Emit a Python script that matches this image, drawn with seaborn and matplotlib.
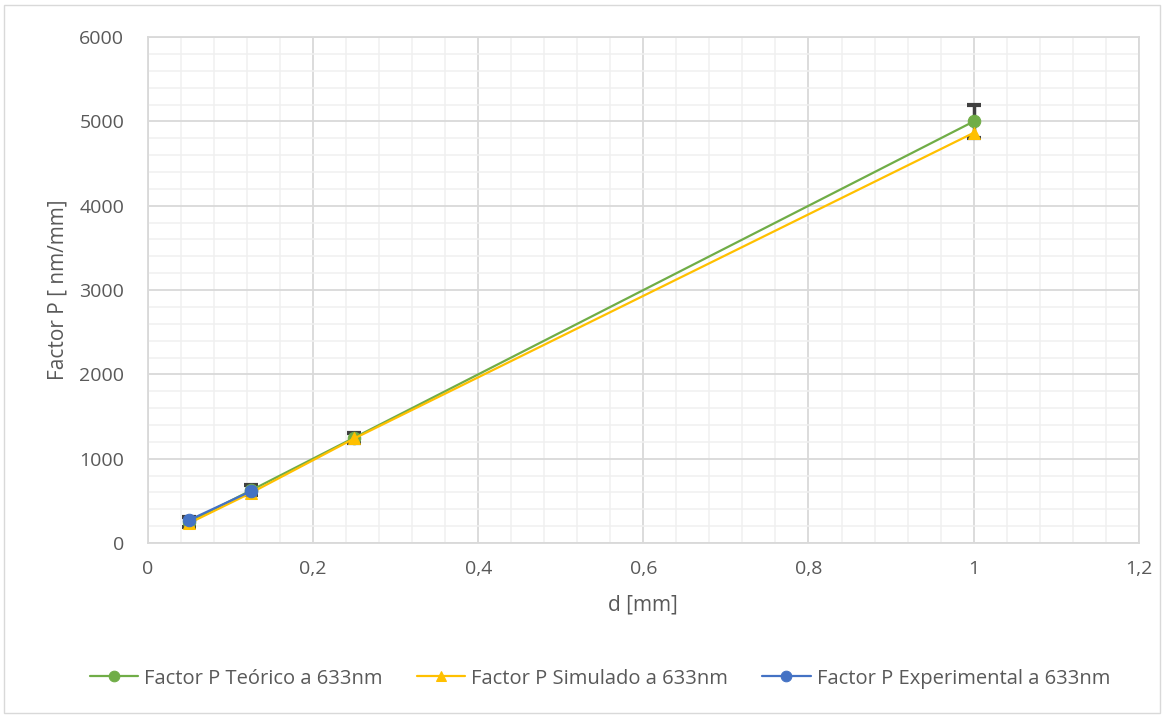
import numpy as np
import pandas as pd
import matplotlib
matplotlib.use('Agg')
import matplotlib.pyplot as plt
import seaborn as sns
from matplotlib.ticker import MultipleLocator, FuncFormatter

# data
d_mm = [0.05, 0.125, 0.25, 1.0]
p_teorico = [250, 625, 1250, 5000]
p_teorico_err = [60, 60, 60, 200]
p_simulado = [235, 595, 1240, 4865]
d_exp = [0.05, 0.125]
p_experimental = [272, 615]

labels = ['Factor P Teórico a 633nm', 'Factor P Simulado a 633nm',
          'Factor P Experimental a 633nm']
colors = ['#70AD47', '#FFC000', '#4472C4']

sns.set_theme(style='white')
plt.rcParams['font.family'] = ['Open Sans', 'DejaVu Sans']
txt = '#595959'

fig = plt.figure(figsize=(11.74, 7.15), dpi=100)
ax = fig.add_axes([0.126, 0.2406, 0.844, 0.7074])

# error bars on the theoretical series
ax.errorbar(d_mm, p_teorico, yerr=p_teorico_err, fmt='none', ecolor='#404040',
            elinewidth=2.5, capsize=5, capthick=3, zorder=2)

sns.lineplot(x=d_mm, y=p_teorico, ax=ax, color=colors[0], marker='o', markersize=9,
             markeredgecolor=colors[0], linewidth=1.6, label=labels[0], zorder=3)
sns.lineplot(x=d_mm, y=p_simulado, ax=ax, color=colors[1], marker='^', markersize=9,
             markeredgecolor=colors[1], linewidth=1.6, label=labels[1], zorder=4)
sns.lineplot(x=d_exp, y=p_experimental, ax=ax, color=colors[2], marker='o', markersize=9,
             markeredgecolor=colors[2], linewidth=1.6, label=labels[2], zorder=5)

ax.set_xlim(0, 1.2)
ax.set_ylim(0, 6000)
ax.xaxis.set_major_locator(MultipleLocator(0.2))
ax.xaxis.set_minor_locator(MultipleLocator(0.04))
ax.yaxis.set_major_locator(MultipleLocator(1000))
ax.yaxis.set_minor_locator(MultipleLocator(200))
ax.xaxis.set_major_formatter(FuncFormatter(lambda v, p: f'{int(round(v))}' if abs(v - round(v)) < 1e-9 else f'{v:.1f}'.replace('.', ',')))

ax.grid(which='major', color='#D9D9D9', linewidth=1.3)
ax.grid(which='minor', color='#F0F0F0', linewidth=1.1)
ax.set_axisbelow(True)
for s in ax.spines.values():
    s.set_color('#D9D9D9')
    s.set_linewidth(1.3)

ax.tick_params(axis='both', which='both', length=0, labelsize=14, labelcolor=txt)
ax.tick_params(axis='y', pad=17)
ax.tick_params(axis='x', pad=12)
ax.set_xlabel('d [mm]', fontsize=15, color=txt, labelpad=12)
ax.set_ylabel('Factor P [ nm/mm]', fontsize=15, color=txt, labelpad=8)

ax.legend(loc='center', bbox_to_anchor=(0.456, -0.268), ncol=3, frameon=False,
          fontsize=14.5, labelcolor=txt, handlelength=2.4, handletextpad=0.3,
          columnspacing=1.7, markerscale=0.85)

fig.patches.append(plt.Rectangle((0.003, 0.003), 0.985, 0.99, transform=fig.transFigure,
                                 fill=False, edgecolor='#D9D9D9', linewidth=1))

fig.savefig('out.png', dpi=100)
